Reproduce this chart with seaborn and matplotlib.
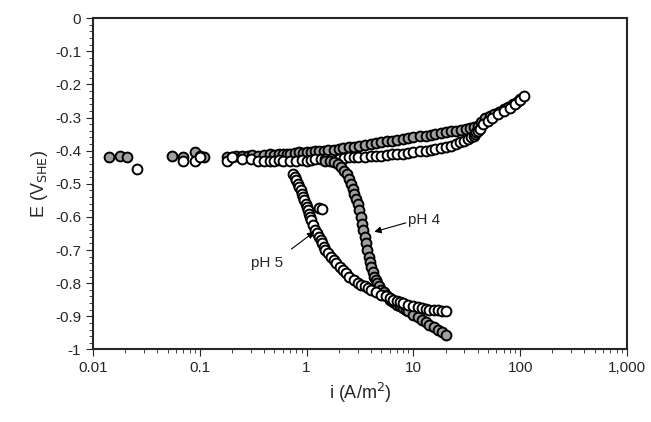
import numpy as np
import matplotlib
matplotlib.use("Agg")
import matplotlib.pyplot as plt
import seaborn as sns
from matplotlib.ticker import FixedLocator, MultipleLocator, LogLocator, NullFormatter

# pH 4 (gray filled), anodic branch
ph4_an_i = [0.014, 0.018, 0.021, 0.055, 0.07, 0.09, 0.1, 0.11, 0.18, 0.2, 0.22, 0.25, 0.28, 0.31,
            0.35, 0.4, 0.45, 0.5, 0.55, 0.6, 0.65, 0.7, 0.78, 0.85, 0.92, 1.0, 1.1, 1.2, 1.3, 1.45,
            1.6, 1.8, 2.0, 2.2, 2.5, 2.8, 3.1, 3.5, 4.0, 4.5, 5.0, 5.6, 6.3, 7.0, 8.0, 9.0, 10, 11.5,
            13, 14.5, 16, 18, 20, 22.5, 25, 28, 31, 34, 37, 40, 43, 47, 52, 57, 63, 70, 77, 85, 93, 100]
ph4_an_e = [-0.42, -0.415, -0.42, -0.415, -0.42, -0.405, -0.415, -0.42, -0.42, -0.418, -0.415,
            -0.416, -0.415, -0.414, -0.415, -0.413, -0.41, -0.412, -0.41, -0.41, -0.409, -0.41,
            -0.407, -0.405, -0.406, -0.405, -0.403, -0.402, -0.40, -0.40, -0.398, -0.397, -0.395,
            -0.393, -0.39, -0.388, -0.386, -0.383, -0.38, -0.378, -0.375, -0.372, -0.37, -0.367,
            -0.365, -0.362, -0.36, -0.357, -0.355, -0.352, -0.35, -0.347, -0.345, -0.342, -0.34,
            -0.337, -0.335, -0.332, -0.33, -0.325, -0.315, -0.30, -0.295, -0.29, -0.282, -0.275,
            -0.268, -0.26, -0.252, -0.245]
# pH 4 cathodic branch
ph4_ca_i = [1.5, 1.65, 1.8, 1.95, 2.1, 2.25, 2.4, 2.5, 2.6, 2.7, 2.8, 2.9, 3.0, 3.1, 3.2, 3.3, 3.4,
            3.5, 3.6, 3.7, 3.8, 3.9, 4.0, 4.15, 4.3, 4.45, 4.6, 4.8, 5.0, 5.25, 5.5, 5.75, 6.0, 6.5,
            7.0, 7.5, 8.0, 8.5, 9.0, 10, 11, 12, 13, 14, 15.5, 17, 18.5, 20]
ph4_ca_e = [-0.43, -0.432, -0.435, -0.44, -0.45, -0.46, -0.47, -0.485, -0.50, -0.515, -0.53,
            -0.545, -0.56, -0.58, -0.60, -0.62, -0.64, -0.66, -0.68, -0.70, -0.72, -0.735, -0.75,
            -0.765, -0.78, -0.79, -0.80, -0.81, -0.82, -0.828, -0.835, -0.842, -0.85, -0.857,
            -0.865, -0.87, -0.875, -0.88, -0.885, -0.895, -0.902, -0.91, -0.917, -0.925, -0.932,
            -0.94, -0.947, -0.955]
# pH 5 (open), anodic branch
ph5_an_i = [0.026, 0.07, 0.09, 0.1, 0.18, 0.2, 0.25, 0.3, 0.35, 0.4, 0.45, 0.5, 0.55, 0.6, 0.7,
            0.8, 0.9, 1.0, 1.1, 1.2, 1.35, 1.5, 1.7, 2.0, 2.25, 2.5, 2.8, 3.0, 3.5, 4.0, 4.5, 5.0,
            5.6, 6.3, 7.0, 8.0, 9.0, 10, 11.5, 13, 14.5, 16, 18, 20, 22.5, 25, 27.5, 30, 32.5, 35,
            37, 38, 39, 40, 42, 45, 50, 55, 62, 70, 80, 90, 100, 108]
ph5_an_e = [-0.455, -0.43, -0.43, -0.42, -0.43, -0.42, -0.425, -0.425, -0.43, -0.43, -0.43, -0.43,
            -0.428, -0.43, -0.43, -0.43, -0.428, -0.43, -0.427, -0.425, -0.425, -0.425, -0.424,
            -0.425, -0.422, -0.42, -0.42, -0.42, -0.418, -0.415, -0.415, -0.415, -0.412, -0.41,
            -0.41, -0.41, -0.407, -0.405, -0.402, -0.40, -0.397, -0.395, -0.392, -0.39, -0.385,
            -0.38, -0.375, -0.37, -0.365, -0.36, -0.355, -0.35, -0.345, -0.34, -0.335, -0.32,
            -0.31, -0.30, -0.29, -0.28, -0.27, -0.26, -0.248, -0.235]
# pH 5 cathodic branch
ph5_ca_i = [0.75, 0.78, 0.8, 0.83, 0.85, 0.88, 0.9, 0.93, 0.95, 0.98, 1.0, 1.03, 1.05, 1.08, 1.1,
            1.15, 1.2, 1.25, 1.3, 1.35, 1.4, 1.45, 1.5, 1.6, 1.7, 1.8, 1.9, 2.05, 2.2, 2.35, 2.5,
            2.75, 3.0, 3.25, 3.5, 3.75, 4.0, 4.5, 5.0, 5.5, 6.0, 6.5, 7.0, 7.5, 8.0, 9.0, 10, 11, 12,
            13, 14, 15.5, 17, 18.5, 20, 1.3, 1.4]
ph5_ca_e = [-0.47, -0.48, -0.49, -0.50, -0.51, -0.52, -0.53, -0.54, -0.55, -0.56, -0.57, -0.58,
            -0.59, -0.60, -0.61, -0.625, -0.64, -0.65, -0.66, -0.67, -0.68, -0.69, -0.70, -0.71,
            -0.72, -0.73, -0.74, -0.75, -0.76, -0.77, -0.78, -0.79, -0.80, -0.805, -0.81, -0.815,
            -0.82, -0.828, -0.835, -0.84, -0.845, -0.85, -0.855, -0.857, -0.86, -0.865, -0.87,
            -0.873, -0.875, -0.877, -0.88, -0.881, -0.882, -0.883, -0.883, -0.572, -0.575]

x_ticks = [0.01, 0.1, 1, 10, 100, 1000]
x_labels = ["0.01", "0.1", "1", "10", "100", "1,000"]

sns.set_style("ticks")
plt.rcParams["font.family"] = ["Liberation Sans", "DejaVu Sans"]

fig, ax = plt.subplots(figsize=(6.51, 4.22), dpi=100)
kw = dict(s=50, edgecolor="black", linewidth=1.4, ax=ax, zorder=3)
sns.scatterplot(x=ph4_an_i, y=ph4_an_e, color="#a0a0a0", **kw)
sns.scatterplot(x=ph5_an_i, y=ph5_an_e, color="white", **kw)
sns.scatterplot(x=ph4_ca_i, y=ph4_ca_e, color="#a0a0a0", **kw)
sns.scatterplot(x=ph5_ca_i, y=ph5_ca_e, color="white", **kw)

ax.set_xscale("log")
ax.set_xlim(0.01, 1000)
ax.set_ylim(-1, 0)
ax.xaxis.set_major_locator(FixedLocator(x_ticks))
ax.set_xticklabels(x_labels)
ax.xaxis.set_minor_locator(LogLocator(base=10, subs=np.arange(2, 10)))
ax.xaxis.set_minor_formatter(NullFormatter())
ax.yaxis.set_major_locator(MultipleLocator(0.1))
ax.yaxis.set_minor_locator(MultipleLocator(0.02))
ax.set_yticklabels([f"{v:g}" for v in ax.get_yticks()])
ax.tick_params(which="major", length=5, labelsize=11)
ax.tick_params(which="minor", length=3)
for sp in ax.spines.values():
    sp.set_visible(True)
    sp.set_linewidth(1.5)

ax.set_xlabel("i (A/m$^2$)", fontsize=13)
ax.set_ylabel("E (V$_{\\mathrm{SHE}}$)", fontsize=13)

ax.text(9.0, -0.61, "pH 4", fontsize=11, va="center")
ax.annotate("", xy=(4.3, -0.645), xytext=(8.5, -0.618),
            arrowprops=dict(arrowstyle="-|>", color="black", lw=0.8, shrinkA=0, shrinkB=0))
ax.text(0.3, -0.74, "pH 5", fontsize=11, va="center")
ax.annotate("", xy=(1.18, -0.645), xytext=(0.72, -0.697),
            arrowprops=dict(arrowstyle="-|>", color="black", lw=0.8, shrinkA=0, shrinkB=0))

fig.subplots_adjust(left=0.143, right=0.963, top=0.957, bottom=0.172)
fig.savefig("out.png", dpi=100)
